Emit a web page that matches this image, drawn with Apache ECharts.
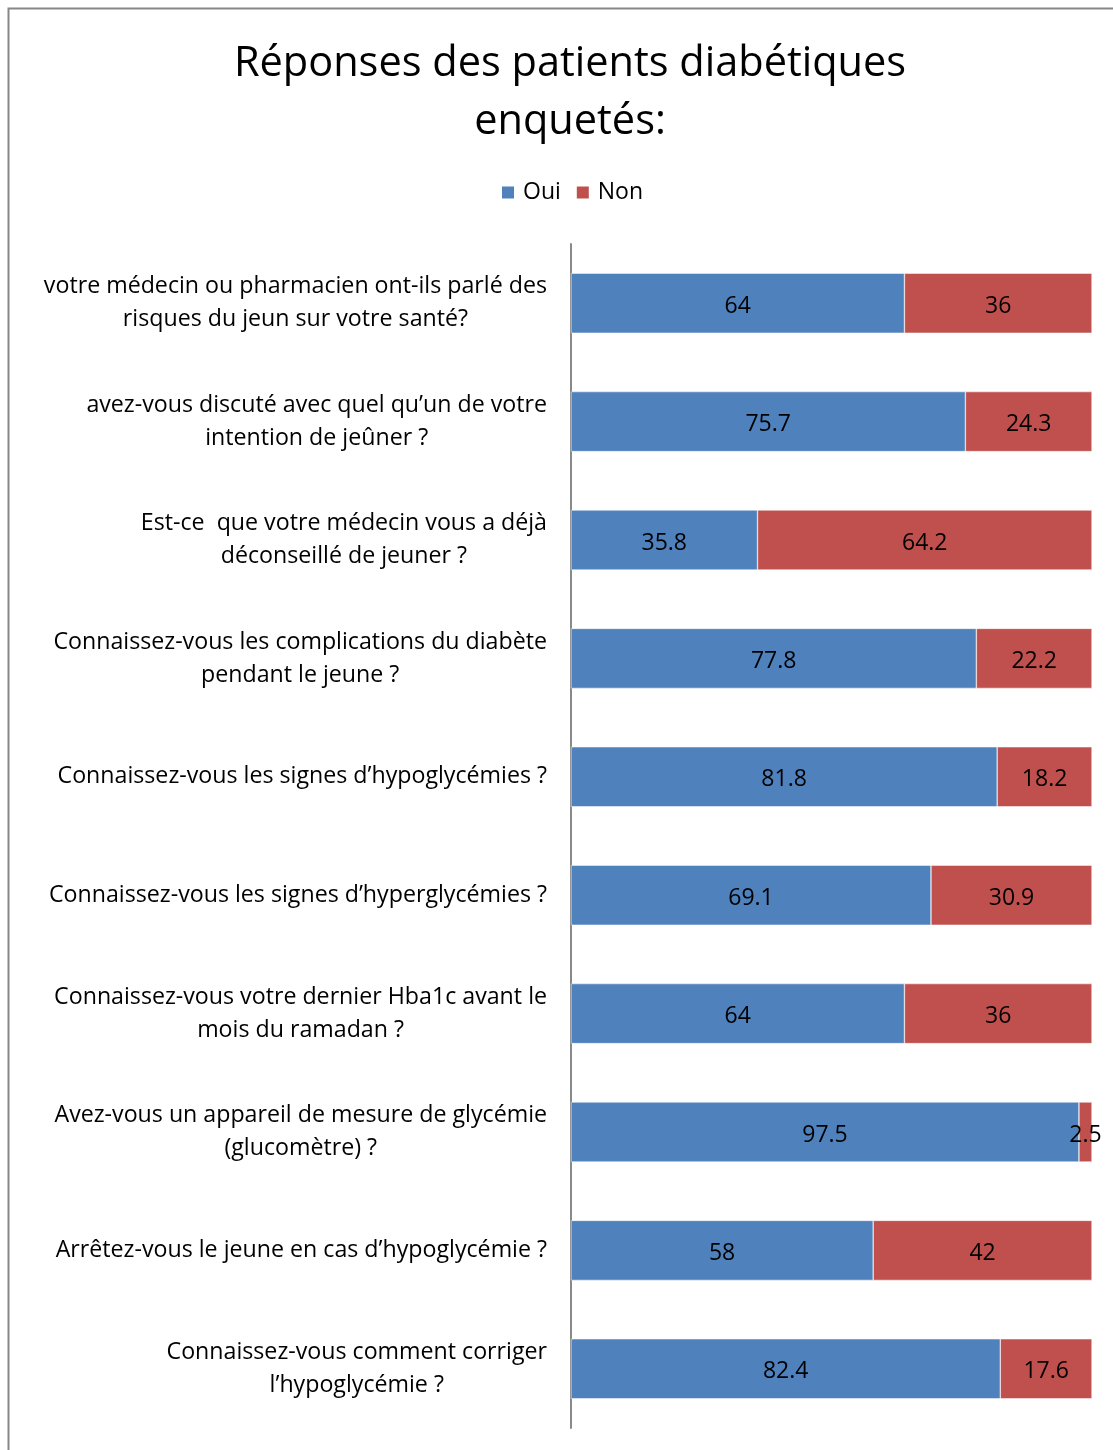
<!DOCTYPE html>
<html>
<head>
<meta charset="utf-8">
<script src="https://cdn.jsdelivr.net/npm/echarts@6/dist/echarts.min.js"></script>
<style>
html,body{margin:0;padding:0;background:#fff;}
#chart{width:1113px;height:1450px;}
</style>
</head>
<body>
<div id="chart"></div>
<script>
const categories = [
  "votre médecin ou pharmacien ont-ils parlé des\nrisques du jeun sur votre santé?",
  "avez-vous discuté avec quel qu’un de votre\nintention de jeûner ?",
  "Est-ce  que votre médecin vous a déjà\ndéconseillé de jeuner ?",
  "Connaissez-vous les complications du diabète\npendant le jeune ?",
  "Connaissez-vous les signes d’hypoglycémies ?",
  "Connaissez-vous les signes d’hyperglycémies ?",
  "Connaissez-vous votre dernier Hba1c avant le\nmois du ramadan ?",
  "Avez-vous un appareil de mesure de glycémie\n(glucomètre) ?",
  "Arrêtez-vous le jeune en cas d’hypoglycémie ?",
  "Connaissez-vous comment corriger\nl’hypoglycémie ?"
];
const oui = [64, 75.7, 35.8, 77.8, 81.8, 69.1, 64, 97.5, 58, 82.4];
const non = [36, 24.3, 64.2, 22.2, 18.2, 30.9, 36, 2.5, 42, 17.6];
const seriesNames = ["Oui", "Non"];

const FONT = "'Open Sans', sans-serif";
const chart = echarts.init(document.getElementById('chart'), null, {renderer: 'canvas'});
chart.setOption({
  animation: false,
  backgroundColor: '#fff',
  title: {
    text: 'Réponses des patients diabétiques\nenquetés:',
    left: 565, top: 30, textAlign: 'center',
    textStyle: {fontFamily: FONT, fontSize: 41.5, fontWeight: 'normal', color: '#000', lineHeight: 58}
  },
  legend: {
    data: seriesNames,
    top: 176, left: 495,
    itemWidth: 14, itemHeight: 14, itemGap: 14,
    icon: 'rect',
    textStyle: {fontFamily: FONT, fontSize: 23, color: '#000', padding: [0,0,0,3]}
  },
  graphic: [{
    type: 'rect', silent: true,
    shape: {x: 8.5, y: 8.5, width: 1200, height: 1500},
    style: {fill: 'none', stroke: '#878787', lineWidth: 2}
  }],
  grid: {left: 571, right: 21, top: 244, bottom: 22, containLabel: false, outerBoundsMode: 'none'},
  xAxis: {type: 'value', min: 0, max: 100, show: false},
  yAxis: {
    type: 'category', data: categories, inverse: true,
    axisLine: {show: true, lineStyle: {color: '#898989', width: 2}},
    axisTick: {show: false},
    axisLabel: {
      margin: 24, align: 'right',
      fontFamily: FONT, fontSize: 23.2, color: '#000', lineHeight: 33,
      formatter: function (v) { return v.split('\n').map(function (l) { return '{c|' + l + '}'; }).join('\n'); },
      rich: {c: {align: 'center', fontFamily: FONT, fontSize: 23.2, color: '#000', lineHeight: 33}}
    }
  },
  series: [
    {name: 'Oui', type: 'bar', stack: 's', data: oui, barWidth: 60,
     itemStyle: {color: '#4F81BD', borderColor: '#fff', borderWidth: 0.5},
     label: {show: true, position: 'inside', offset: [0, 3], color: '#000', fontFamily: FONT, fontSize: 23}},
    {name: 'Non', type: 'bar', stack: 's', data: non, barWidth: 60,
     itemStyle: {color: '#C0504D', borderColor: '#fff', borderWidth: 0.5},
     label: {show: true, position: 'inside', offset: [0, 3], color: '#000', fontFamily: FONT, fontSize: 23}}
  ]
});
</script>
</body>
</html>
